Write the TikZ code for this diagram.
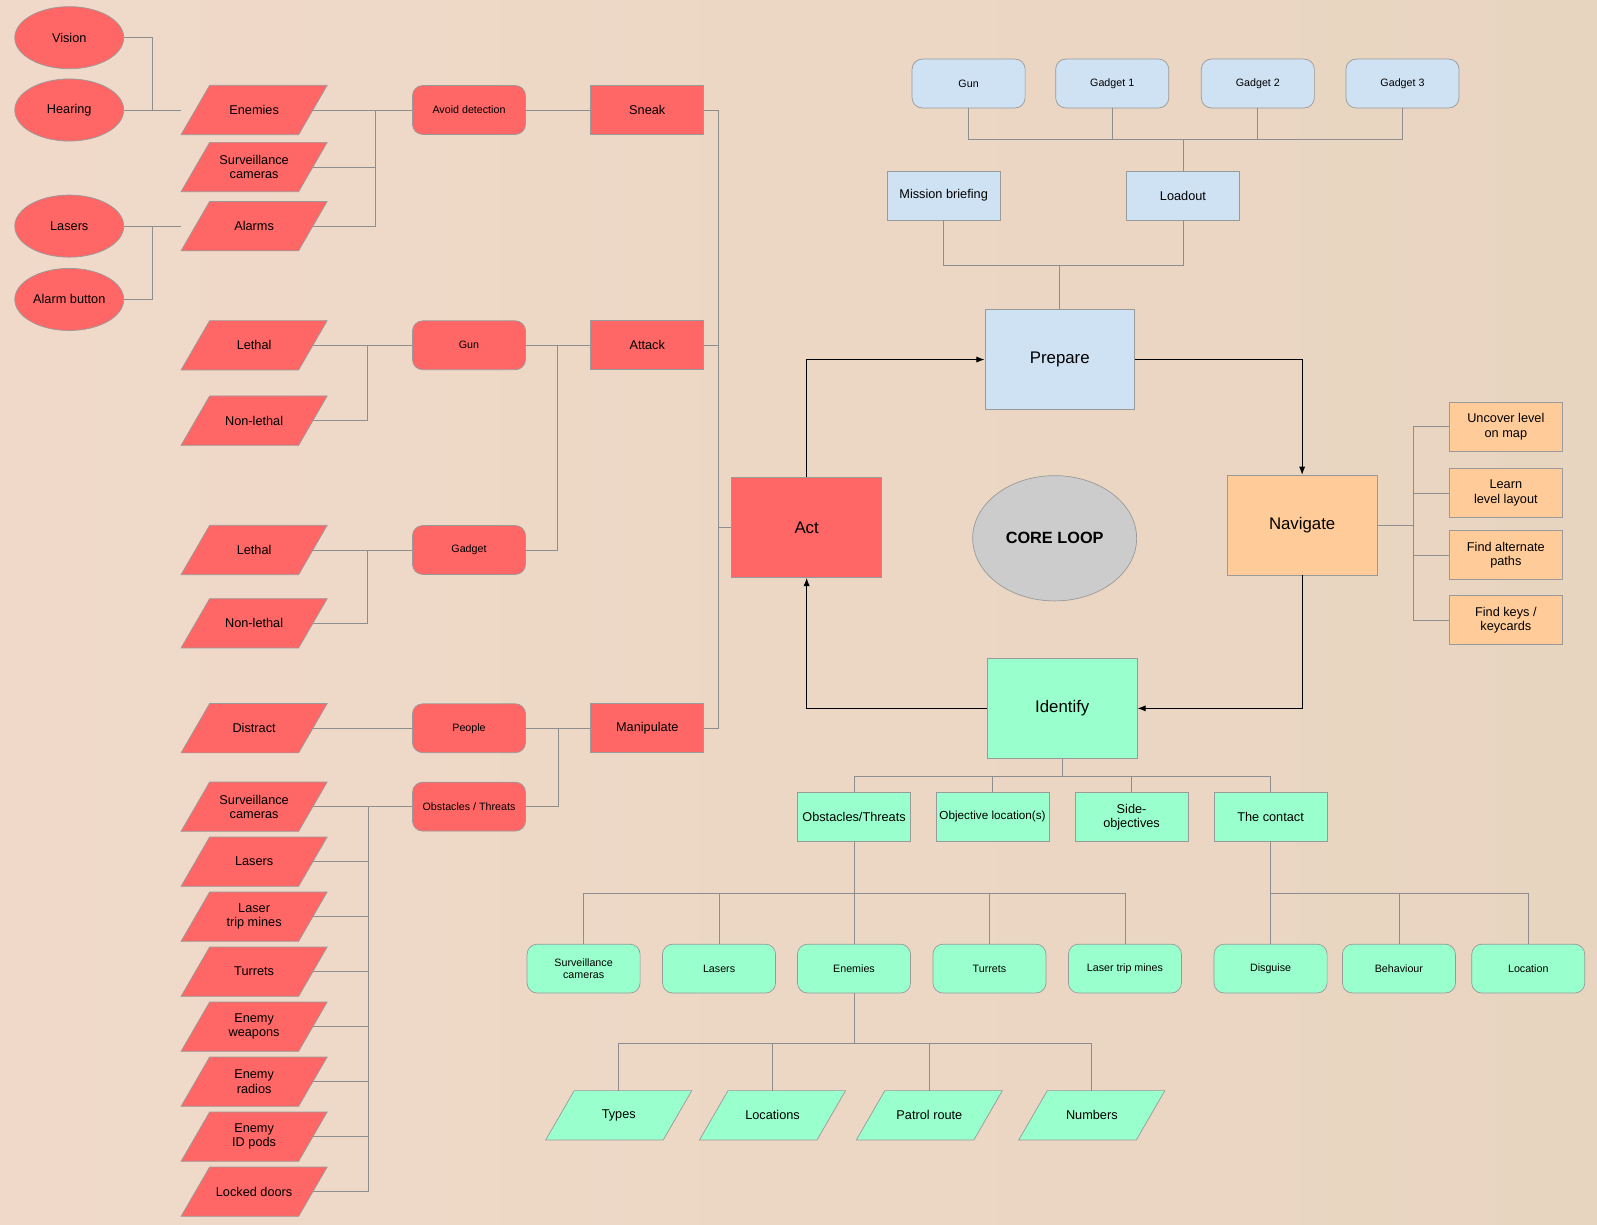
\documentclass[tikz,border=0pt]{standalone}
\usepackage{fontspec}
\setmainfont{Liberation Sans}
\usetikzlibrary{shapes.geometric,arrows.meta,calc}
\pgfdeclarelayer{paper}
\pgfdeclarelayer{shapes}
\pgfsetlayers{paper,shapes,main}
\definecolor{bgl}{HTML}{F0D9C9}
\definecolor{bgr}{HTML}{E8D5C0}
\definecolor{redf}{HTML}{FF6666}
\definecolor{bluef}{HTML}{CFE2F3}
\definecolor{orangef}{HTML}{FFCC99}
\definecolor{greenf}{HTML}{99FFCC}
\definecolor{grayf}{HTML}{CCCCCC}
\definecolor{edgec}{HTML}{9A9A9A}
\definecolor{linkc}{HTML}{8E8E8E}
\newcommand\paranode[4]{%
  \node[paratext] (#1) at (#2) {#4};
  \begin{pgfonlayer}{shapes}
  \filldraw[fill=#3, draw=edgec, line width=0.7pt]
    ($(#1.north west)+(14,0)$) -- ($(#1.north east)+(14,0)$) --
    ($(#1.south east)+(-14,0)$) -- ($(#1.south west)+(-14,0)$) -- cycle;
  \end{pgfonlayer}}
\begin{document}
\begin{tikzpicture}[x=1pt,y=-1pt,
 base/.style={draw=edgec, line width=0.7pt, align=center, inner sep=1pt, text=black},
 txt/.style={font=\fontsize{12.5}{14}\selectfont},
 sm/.style={font=\fontsize{10.5}{12}\selectfont},
 rbox/.style={base, rectangle, minimum width=111pt, minimum height=48pt, txt},
 rrbox/.style={rbox, rounded corners=10pt},
 bigbox/.style={base, rectangle, minimum width=147pt, minimum height=98pt, font=\fontsize{16.5}{19}\selectfont},
 paratext/.style={rectangle, minimum width=115pt, minimum height=48pt, inner sep=1pt, align=center, txt},
 ell/.style={base, ellipse, minimum width=107pt, minimum height=61pt, txt},
 conn/.style={draw=linkc, line width=0.8pt},
 loopar/.style={draw=black, line width=0.9pt, -{Latex[length=8pt,width=6pt]}}
]
\useasboundingbox (0,0) rectangle (1568,1202);
\begin{pgfonlayer}{paper}
\shade[left color=bgl, right color=bgr] (0,0) rectangle (1568,1202);
\end{pgfonlayer}

% ---------- left: ellipses ----------
\node[ell, fill=redf] (vision) at (68,37) {Vision};
\node[ell, fill=redf] (hearing) at (68,108) {Hearing};
\node[ell, fill=redf] (elasers) at (68,222) {Lasers};
\node[ell, fill=redf] (alarmbtn) at (68,294) {Alarm button};

% ---------- red parallelograms ----------
\paranode{enemies1}{249.5,108}{redf}{Enemies}
\paranode{surv1}{249.5,164}{redf}{Surveillance\\cameras}
\paranode{alarms}{249.5,222}{redf}{Alarms}
\paranode{lethal1}{249.5,339}{redf}{Lethal}
\paranode{nonlethal1}{249.5,413}{redf}{Non-lethal}
\paranode{lethal2}{249.5,540}{redf}{Lethal}
\paranode{nonlethal2}{249.5,612}{redf}{Non-lethal}
\paranode{distract}{249.5,715}{redf}{Distract}
\paranode{surv2}{249.5,792}{redf}{Surveillance\\cameras}
\paranode{lasers2}{249.5,846}{redf}{Lasers}
\paranode{ltm2}{249.5,900}{redf}{Laser\\trip mines}
\paranode{turrets2}{249.5,954}{redf}{Turrets}
\paranode{eweap}{249.5,1008}{redf}{Enemy\\weapons}
\paranode{eradio}{249.5,1062}{redf}{Enemy\\radios}
\paranode{eid}{249.5,1116}{redf}{Enemy\\ID pods}
\paranode{locked}{249.5,1170}{redf}{Locked doors}

% ---------- red rounded boxes ----------
\node[rrbox, fill=redf, sm] (avoid) at (460.5,108) {Avoid detection};
\node[rrbox, fill=redf, sm] (rgun) at (460.5,339) {Gun};
\node[rrbox, fill=redf, sm] (rgadget) at (460.5,540) {Gadget};
\node[rrbox, fill=redf, sm] (people) at (460.5,715) {People};
\node[rrbox, fill=redf, sm] (obstr) at (460.5,792) {Obstacles / Threats};

% ---------- red boxes ----------
\node[rbox, fill=redf] (sneak) at (635.5,108) {Sneak};
\node[rbox, fill=redf] (attack) at (635.5,339) {Attack};
\node[rbox, fill=redf] (manip) at (635.5,715) {Manipulate};

% ---------- core loop ----------
\node[bigbox, fill=redf] (act) at (792,518) {Act};
\node[bigbox, fill=bluef] (prepare) at (1040.5,353) {Prepare};
\node[bigbox, fill=orangef] (navigate) at (1278.5,515.5) {Navigate};
\node[bigbox, fill=greenf] (identify) at (1043,695.5) {Identify};
\node[base, ellipse, fill=grayf, minimum width=161pt, minimum height=123pt, font=\bfseries\fontsize{16}{19}\selectfont] (core) at (1035.5,528.5) {CORE LOOP};

% ---------- prepare tree ----------
\node[rbox, fill=bluef] (mission) at (926.5,192) {Mission briefing};
\node[rbox, fill=bluef] (loadout) at (1161.5,192) {Loadout};
\node[rrbox, fill=bluef, sm] (bgun) at (951,82) {Gun};
\node[rrbox, fill=bluef, sm] (bg1) at (1092,82) {Gadget 1};
\node[rrbox, fill=bluef, sm] (bg2) at (1235,82) {Gadget 2};
\node[rrbox, fill=bluef, sm] (bg3) at (1377,82) {Gadget 3};

% ---------- navigate tree ----------
\node[rbox, fill=orangef] (uncover) at (1478.5,419) {Uncover level\\on map};
\node[rbox, fill=orangef] (learn) at (1478.5,484) {Learn\\level layout};
\node[rbox, fill=orangef] (altpath) at (1478.5,545) {Find alternate\\paths};
\node[rbox, fill=orangef] (keys) at (1478.5,609) {Find keys /\\keycards};

% ---------- identify tree ----------
\node[rbox, fill=greenf] (gobst) at (838.5,802) {Obstacles/Threats};
\node[rbox, fill=greenf, font=\fontsize{11.5}{13}\selectfont] (gobj) at (974.5,802) {Objective location(s)};
\node[rbox, fill=greenf] (gside) at (1111,802) {Side-\\objectives};
\node[rbox, fill=greenf] (gcontact) at (1247.5,802) {The contact};

\node[rrbox, fill=greenf, sm] (gsurv) at (573,951) {Surveillance\\cameras};
\node[rrbox, fill=greenf, sm] (glasers) at (706,951) {Lasers};
\node[rrbox, fill=greenf, sm] (genem) at (838.5,951) {Enemies};
\node[rrbox, fill=greenf, sm] (gturrets) at (971.5,951) {Turrets};
\node[rrbox, fill=greenf, sm] (gltm) at (1104.5,951) {Laser trip mines};
\node[rrbox, fill=greenf, sm] (gdisg) at (1247.5,951) {Disguise};
\node[rrbox, fill=greenf, sm] (gbehav) at (1373.5,951) {Behaviour};
\node[rrbox, fill=greenf, sm] (gloc) at (1500.5,951) {Location};

\paranode{gtypes}{607.5,1095}{greenf}{Types}
\paranode{glocs}{758.5,1095}{greenf}{Locations}
\paranode{gpatrol}{912.5,1095}{greenf}{Patrol route}
\paranode{gnum}{1072,1095}{greenf}{Numbers}

% ---------- connectors: left ----------
\draw[conn] (vision.east) -- ++(28,0) |- ($(enemies1.west)+(-14,0)$);
\draw[conn] (hearing.east) -- ($(enemies1.west)+(-14,0)$);
\draw[conn] (elasers.east) -- ($(alarms.west)+(-14,0)$);
\draw[conn] (alarmbtn.east) -- ++(28,0) |- ($(alarms.west)+(-14,0)$);

\draw[conn] (enemies1.east) -- (avoid.west);
\draw[conn] (surv1.east) -- ++(61,0) |- (avoid.west);
\draw[conn] (alarms.east) -- ++(61,0) |- (avoid.west);
\draw[conn] (avoid.east) -- (sneak.west);

\draw[conn] (lethal1.east) -- (rgun.west);
\draw[conn] (nonlethal1.east) -- ++(54,0) |- (rgun.west);
\draw[conn] (lethal2.east) -- (rgadget.west);
\draw[conn] (nonlethal2.east) -- ++(54,0) |- (rgadget.west);
\draw[conn] (rgun.east) -- (attack.west);
\draw[conn] (rgadget.east) -- ++(31,0) |- (attack.west);

\draw[conn] (distract.east) -- (people.west);
\draw[conn] (surv2.east) -- (obstr.west);
\foreach \n in {lasers2,ltm2,turrets2,eweap,eradio,eid,locked}
  \draw[conn] (\n.east) -- ++(55,0) |- (obstr.west);
\draw[conn] (people.east) -- (manip.west);
\draw[conn] (obstr.east) -- ++(32,0) |- (manip.west);

\draw[conn] (sneak.east) -- ++(14,0) |- (act.west);
\draw[conn] (attack.east) -- ++(14,0) |- (act.west);
\draw[conn] (manip.east) -- ++(14,0) |- (act.west);

% ---------- prepare tree connectors ----------
\draw[conn] (prepare.north) -- ++(0,-43) coordinate (pbus);
\draw[conn] (mission.south) |- (pbus);
\draw[conn] (loadout.south) |- (pbus);
\draw[conn] (loadout.north) -- ++(0,-31) coordinate (lbus);
\foreach \n in {bgun,bg1,bg2,bg3}
  \draw[conn] (\n.south) |- (lbus);

% ---------- navigate tree connectors ----------
\foreach \n in {uncover,learn,altpath,keys}
  \draw[conn] (navigate.east) -- ++(35,0) |- (\n.west);

% ---------- identify tree connectors ----------
\draw[conn] (identify.south) -- ++(0,17) coordinate (ibus);
\foreach \n in {gobst,gobj,gside,gcontact}
  \draw[conn] (\n.north) |- (ibus);
\draw[conn] (gobst.south) -- ++(0,51) coordinate (obus);
\foreach \n in {gsurv,glasers,genem,gturrets,gltm}
  \draw[conn] (\n.north) |- (obus);
\draw[conn] (gcontact.south) -- ++(0,51) coordinate (cbus);
\foreach \n in {gdisg,gbehav,gloc}
  \draw[conn] (\n.north) |- (cbus);
\draw[conn] (genem.south) -- ++(0,49) coordinate (ebus);
\foreach \n in {gtypes,glocs,gpatrol,gnum}
  \draw[conn] (\n.north) |- (ebus);

% ---------- core loop arrows ----------
\draw[loopar] (act.north) |- (prepare.west);
\draw[loopar] (prepare.east) -| (navigate.north);
\draw[loopar] (navigate.south) |- (identify.east);
\draw[loopar] (identify.west) -| (act.south);
\end{tikzpicture}
\end{document}
